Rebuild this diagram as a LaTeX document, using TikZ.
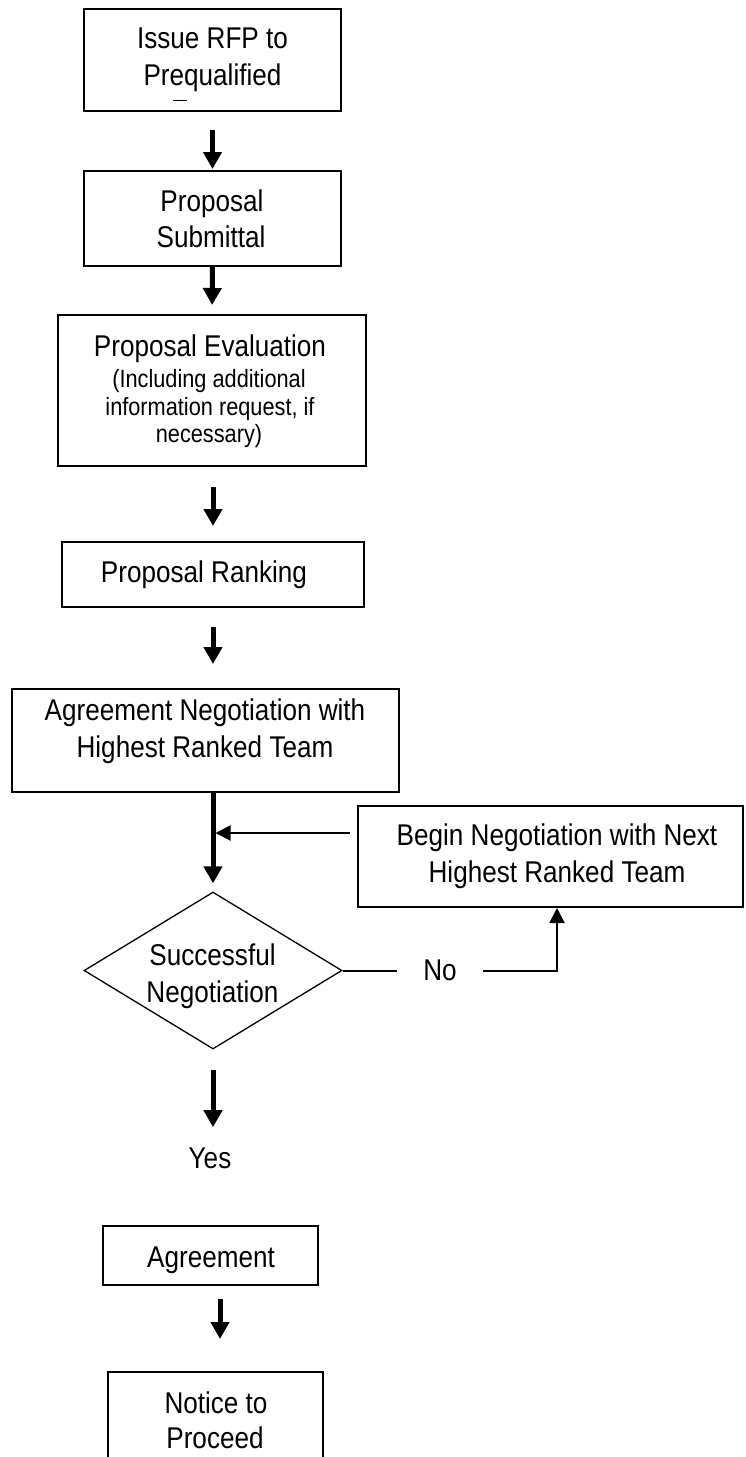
\documentclass[tikz,border=0pt]{standalone}
\usepackage{fontspec}
\setmainfont{Liberation Sans}[FakeStretch=0.87]
\usetikzlibrary{arrows.meta,shapes.geometric,calc}
\newcommand{\bigtxt}{\fontsize{30}{36}\selectfont}
\newcommand{\smalltxt}{\fontsize{25}{29}\selectfont}
\begin{document}
\begin{tikzpicture}[x=1pt,y=-1pt,
  box/.style={draw, line width=2pt, inner sep=0pt},
  txt/.style={inner sep=0pt, anchor=base, font=\bigtxt},
  stxt/.style={inner sep=0pt, anchor=base, font=\smalltxt},
  arr/.style={line width=5pt, -{Triangle[width=18pt,length=17pt]}},
  thinarr/.style={line width=2pt, -{Triangle[width=15pt,length=15pt]}},
  thinline/.style={line width=2pt}]
\useasboundingbox (0,0) rectangle (745,1457);
\clip (0,0) rectangle (745,1457);
\fill[white] (0,0) rectangle (745,1457);
% boxes
\node[box, minimum width=257, minimum height=102] (b1) at (212.5,60) {};
\node[box, minimum width=257, minimum height=95] (b2) at (212.5,218.5) {};
\node[box, minimum width=308, minimum height=151] (b3) at (212,390.5) {};
\node[box, minimum width=302, minimum height=65] (b4) at (213,574.5) {};
\node[box, minimum width=387, minimum height=103] (b5) at (205.5,740.5) {};
\node[box, minimum width=385, minimum height=101] (b6) at (550.5,856.5) {};
\node[draw, diamond, line width=1.3pt, inner sep=0pt, minimum width=258, minimum height=157] (d) at (213,970.5) {};
\node[box, minimum width=215, minimum height=59] (ag) at (210.5,1255.5) {};
\node[box, minimum width=215, minimum height=128] (nt) at (215.5,1436) {};
% texts
\node[txt] (t1a) at (212.5,48) {Issue RFP to};
\node[txt] (t1b) at (212.5,85) {Prequalified};
\draw[line width=1pt] (173,100) -- (187,100);
\node[txt] (t2a) at (212,211) {Proposal};
\node[txt] (t2b) at (211,247) {Submittal};
\node[txt] (t3a) at (210,356) {Proposal Evaluation};
\node[stxt] (t3b) at (209,387) {(Including additional};
\node[stxt] (t3c) at (210,415) {information request, if};
\node[stxt] (t3d) at (209,442) {necessary)};
\node[txt] (t4) at (204,582) {Proposal Ranking};
\node[txt] (t5a) at (205,720) {Agreement Negotiation with};
\node[txt] (t5b) at (205,757) {Highest Ranked Team};
\node[txt] (t6a) at (557,845) {Begin Negotiation with Next};
\node[txt] (t6b) at (557,882) {Highest Ranked Team};
\node[txt] (td1) at (212.5,965) {Successful};
\node[txt] (td2) at (212.5,1002) {Negotiation};
\node[inner sep=0pt, font=\bigtxt, minimum width=86] (no) at (440,970) {No};
\node[txt] (yes) at (210,1168) {Yes};
\node[txt] (tag) at (211,1267) {Agreement};
\node[txt] (tn1) at (216,1413) {Notice to};
\node[txt] (tn2) at (215,1448) {Proceed};
% connectors
\coordinate (j) at (215.5,833);
\coordinate (k) at (557,971);
\draw[arr, shorten <=18pt, shorten >=1pt] (b1.south) -- (b2.north);
\draw[arr, shorten >=9pt] (b2.south) -- (b3.north);
\draw[arr, shorten <=20pt, shorten >=15pt] (b3.south -| b4.north) -- (b4.north);
\draw[arr, shorten <=19pt, shorten >=24pt] (b4.south) -- (b4.south |- b5.north);
\draw[arr, shorten >=8pt] (b5.south -| d.north) -- (d.north);
\draw[thinarr, shorten <=7pt] ($(b6.west)+(0,-23.5)$) -- (j);
\draw[thinline] (d.east) -- (no.west |- d.east);
\draw[thinarr] (no.east |- k) -- (k) -- (k |- b6.south);
\draw[arr, shorten <=20pt, shorten >=20pt] (d.south) -- (yes.north -| d.south);
\draw[arr, shorten <=13pt, shorten >=32pt] ([xshift=9.5pt]ag.south) -- ([xshift=4.5pt]nt.north);
\end{tikzpicture}
\end{document}
